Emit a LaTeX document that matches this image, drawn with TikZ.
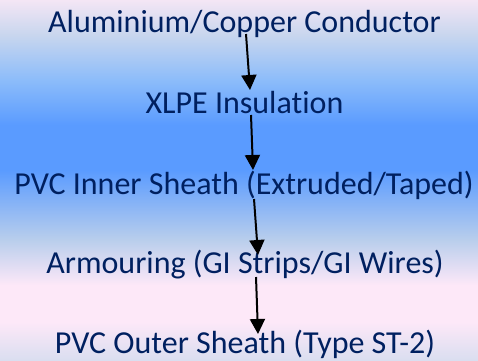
\documentclass[tikz,border=0pt]{standalone}
\usepackage{fontspec}
\setmainfont{Carlito}[Ligatures={NoCommon}]
\usetikzlibrary{arrows.meta}
\definecolor{txtblue}{RGB}{0,32,96}
\definecolor{bgA}{RGB}{244,230,245}
\definecolor{bgB}{RGB}{200,214,238}
\definecolor{bgC}{RGB}{140,188,250}
\definecolor{bgD}{RGB}{90,155,255}
\definecolor{bgE}{RGB}{185,206,236}
\definecolor{bgF}{RGB}{253,232,248}
\definecolor{bgG}{RGB}{218,222,240}
\begin{document}
\begin{tikzpicture}[x=1pt,y=-1pt,
    layer/.style={font=\fontsize{32}{38}\selectfont, text=txtblue, anchor=base, inner sep=0pt},
    flow/.style={-{Triangle[length=15pt,width=15pt]}, line width=2pt, black}]
    \useasboundingbox (0,0) rectangle (478,360);

    % background bands
    \shade[top color=bgA, bottom color=bgB] (0,0) rectangle (478,35);
    \shade[top color=bgB, bottom color=bgC] (0,35) rectangle (478,80);
    \shade[top color=bgC, bottom color=bgD] (0,80) rectangle (478,125);
    \fill[bgD] (0,125) rectangle (478,170);
    \shade[top color=bgD, bottom color=bgE] (0,170) rectangle (478,240);
    \shade[top color=bgE, bottom color=bgF] (0,240) rectangle (478,285);
    \fill[bgF] (0,285) rectangle (478,322);
    \shade[top color=bgF, bottom color=bgG] (0,322) rectangle (478,360);

    \node[layer] (cond)  at (244.5,32)  {Aluminium/Copper Conductor};
    \node[layer] (ins)   at (244.5,113) {XLPE Insulation};
    \node[layer] (inner) at (244,194)   {PVC Inner Sheath (Extruded/Taped)};
    \node[layer] (arm)   at (245,273)   {Armouring (GI Strips/GI Wires)};
    \node[layer] (outer) at (245,353)   {PVC Outer Sheath (Type ST-2)};

    \coordinate (s1) at ([xshift=1.5pt,yshift=-2pt]cond.base);
    \coordinate (e1) at ([xshift=5.5pt,yshift=23pt]ins.base);
    \coordinate (s2) at ([xshift=6.5pt,yshift=-2pt]ins.base);
    \coordinate (e2) at ([xshift=9pt,yshift=24pt]inner.base);
    \coordinate (s3) at ([xshift=10pt,yshift=-5pt]inner.base);
    \coordinate (e3) at ([xshift=13pt,yshift=18pt]arm.base);
    \coordinate (s4) at ([xshift=11pt,yshift=-4pt]arm.base);
    \coordinate (e4) at ([xshift=13pt,yshift=19pt]outer.base);

    \draw[flow] (s1) -- (e1);
    \draw[flow] (s2) -- (e2);
    \draw[flow] (s3) -- (e3);
    \draw[flow] (s4) -- (e4);
\end{tikzpicture}
\end{document}
